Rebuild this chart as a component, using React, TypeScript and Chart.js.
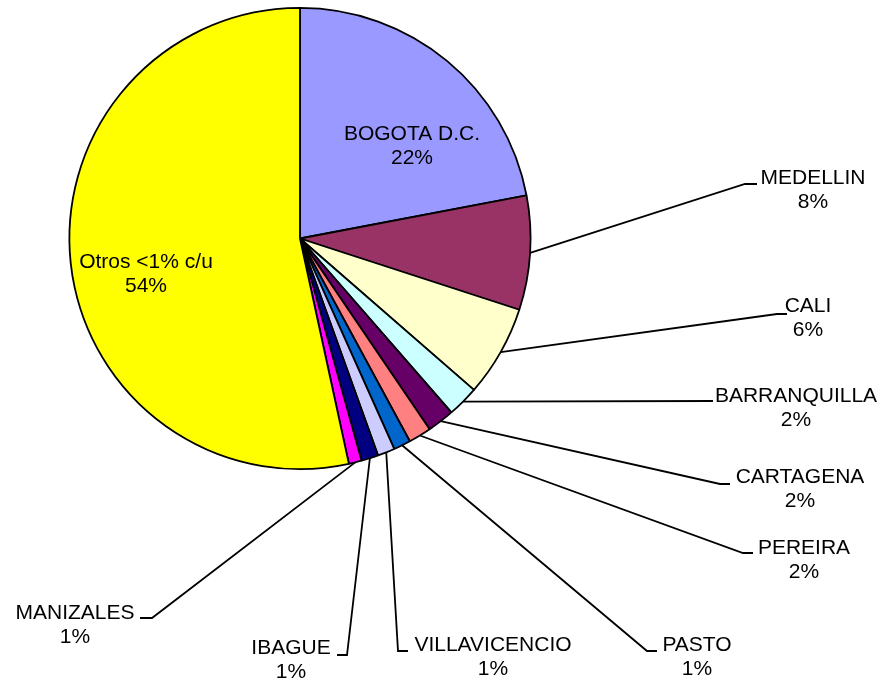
import React, { useEffect, useRef } from 'react';
import { Chart, registerables } from 'chart.js';

Chart.register(...registerables);

const categories = [
  'BOGOTA D.C.',
  'MEDELLIN',
  'CALI',
  'BARRANQUILLA',
  'CARTAGENA',
  'PEREIRA',
  'PASTO',
  'VILLAVICENCIO',
  'IBAGUE',
  'MANIZALES',
  'Otros <1% c/u',
];
const shares = [22.0, 8.0, 6.4, 2.2, 1.9, 1.6, 1.2, 1.2, 1.2, 0.9, 53.4];
const percentLabels = ['22%', '8%', '6%', '2%', '2%', '2%', '1%', '1%', '1%', '1%', '54%'];
const sliceColors = [
  '#9999FF',
  '#993366',
  '#FFFFCC',
  '#CCFFFF',
  '#660066',
  '#FF8080',
  '#0066CC',
  '#CCCCFF',
  '#000080',
  '#FF00FF',
  '#FFFF00',
];

// Label layout (canvas px): text centre of first line, optional leader elbow / end.
type Layout = { tx: number; ty: number; elbow?: [number, number]; end?: [number, number] };
const labelLayout: Layout[] = [
  { tx: 412, ty: 134 },
  { tx: 813, ty: 178, elbow: [745, 184], end: [757, 184] },
  { tx: 808, ty: 306, elbow: [777, 314], end: [787, 314] },
  { tx: 796, ty: 396, elbow: [713, 401], end: [713, 401] },
  { tx: 800, ty: 477, elbow: [720, 484], end: [730, 484] },
  { tx: 804, ty: 548, elbow: [743, 553], end: [753, 553] },
  { tx: 697, ty: 645, elbow: [647, 651], end: [657, 651] },
  { tx: 493, ty: 645, elbow: [398, 651], end: [408, 651] },
  { tx: 291, ty: 648, elbow: [347, 655], end: [337, 655] },
  { tx: 75, ty: 613, elbow: [152, 618], end: [140, 618] },
  { tx: 146, ty: 262 },
];

const LINE_GAP = 24.5;
const FONT = '21px "Liberation Sans", Arial, Helvetica, sans-serif';

const labelPlugin = {
  id: 'leaderLabels',
  afterDatasetsDraw(chart: any) {
    const ctx = chart.ctx as CanvasRenderingContext2D;
    const meta = chart.getDatasetMeta(0);
    ctx.save();
    ctx.strokeStyle = '#000000';
    ctx.lineWidth = 1.8;
    meta.data.forEach((arc: any, i: number) => {
      const lay = labelLayout[i];
      if (lay.elbow && lay.end) {
        const a = (arc.startAngle + arc.endAngle) / 2;
        const sx = arc.x + Math.cos(a) * arc.outerRadius;
        const sy = arc.y + Math.sin(a) * arc.outerRadius;
        ctx.beginPath();
        ctx.moveTo(sx, sy);
        ctx.lineTo(lay.elbow[0], lay.elbow[1]);
        ctx.lineTo(lay.end[0], lay.end[1]);
        ctx.stroke();
      }
    });
    ctx.fillStyle = '#000000';
    ctx.font = FONT;
    ctx.textAlign = 'center';
    ctx.textBaseline = 'middle';
    categories.forEach((name, i) => {
      const lay = labelLayout[i];
      ctx.fillText(name, lay.tx, lay.ty);
      ctx.fillText(percentLabels[i], lay.tx, lay.ty + LINE_GAP);
    });
    ctx.restore();
  },
};

export default function App() {
  const canvasRef = useRef<HTMLCanvasElement | null>(null);

  useEffect(() => {
    if (!canvasRef.current) return;
    const chart = new Chart(canvasRef.current, {
      type: 'pie',
      data: {
        labels: categories,
        datasets: [
          {
            data: shares,
            backgroundColor: sliceColors,
            borderColor: '#000000',
            borderWidth: 1.8,
          },
        ],
      },
      options: {
        animation: false,
        responsive: false,
        devicePixelRatio: 1,
        layout: { padding: { left: 68, right: 354, top: 7, bottom: 210 } },
        plugins: {
          legend: { display: false },
          tooltip: { enabled: false },
        },
      },
      plugins: [labelPlugin],
    });
    return () => chart.destroy();
  }, []);

  return (
    <div style={{ position: 'absolute', left: 0, top: 0, width: 886, height: 680, background: '#ffffff' }}>
      <canvas ref={canvasRef} width={886} height={680} style={{ display: 'block', width: 886, height: 680 }} />
    </div>
  );
}
